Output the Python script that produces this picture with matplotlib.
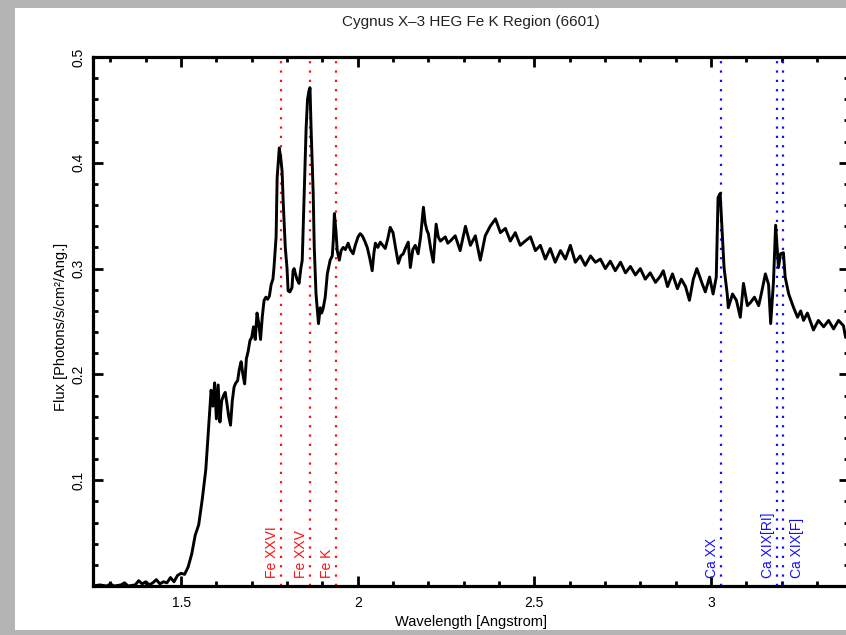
import matplotlib
matplotlib.use('Agg')
import matplotlib.pyplot as plt
from matplotlib.patches import Rectangle
from matplotlib.ticker import MultipleLocator

plt.rcParams['font.family'] = ['Liberation Sans', 'DejaVu Sans']

# HEG spectrum (Angstrom, photons/s/cm^2/Ang)
wl = [1.25, 1.27, 1.29, 1.30, 1.31, 1.33, 1.34, 1.35, 1.37, 1.38, 1.39, 1.40, 1.41,
      1.42, 1.43, 1.44, 1.45, 1.46, 1.47, 1.48, 1.49, 1.50, 1.51, 1.52, 1.53, 1.54,
      1.55, 1.56, 1.57, 1.575, 1.58, 1.585, 1.59, 1.595, 1.60, 1.605, 1.61, 1.615,
      1.62, 1.625, 1.63, 1.635, 1.64, 1.645, 1.65, 1.655, 1.66, 1.665, 1.67, 1.675,
      1.68, 1.685, 1.69, 1.695, 1.70, 1.705, 1.71, 1.715, 1.72, 1.725, 1.73, 1.735,
      1.74, 1.745, 1.75, 1.755, 1.76, 1.763, 1.769, 1.772, 1.778, 1.782, 1.786, 1.789,
      1.795, 1.800, 1.803, 1.808, 1.814, 1.817, 1.820, 1.823, 1.828, 1.834, 1.839,
      1.843, 1.848, 1.854, 1.858, 1.862, 1.865, 1.868, 1.874, 1.877, 1.882, 1.886,
      1.889, 1.894, 1.898, 1.902, 1.908, 1.914, 1.922, 1.928, 1.931, 1.934, 1.939,
      1.942, 1.948, 1.953, 1.959, 1.965, 1.973, 1.979, 1.987, 1.993, 2.001, 2.007,
      2.013, 2.020, 2.027, 2.034, 2.041, 2.046, 2.050, 2.057, 2.064, 2.071, 2.078,
      2.085, 2.092, 2.100, 2.108, 2.115, 2.122, 2.129, 2.136, 2.143, 2.149, 2.156,
      2.163, 2.171, 2.178, 2.186, 2.191, 2.196, 2.200, 2.207, 2.214, 2.222, 2.228,
      2.234, 2.241, 2.248, 2.255, 2.262, 2.276, 2.290, 2.305, 2.319, 2.333, 2.347,
      2.361, 2.375, 2.390, 2.404, 2.418, 2.432, 2.446, 2.460, 2.474, 2.489, 2.503,
      2.517, 2.531, 2.545, 2.559, 2.574, 2.588, 2.602, 2.616, 2.630, 2.644, 2.659,
      2.673, 2.687, 2.701, 2.715, 2.729, 2.744, 2.758, 2.772, 2.786, 2.800, 2.814,
      2.828, 2.843, 2.857, 2.865, 2.877, 2.891, 2.905, 2.916, 2.928, 2.939, 2.950,
      2.960, 2.976, 2.984, 2.996, 3.006, 3.015, 3.020, 3.026, 3.032, 3.037, 3.046,
      3.049, 3.061, 3.072, 3.083, 3.092, 3.103, 3.112, 3.123, 3.135, 3.143, 3.154,
      3.163, 3.169, 3.177, 3.183, 3.191, 3.197, 3.205, 3.210, 3.220, 3.234, 3.245,
      3.254, 3.262, 3.273, 3.290, 3.304, 3.319, 3.333, 3.347, 3.361, 3.375, 3.381,
      3.395]
flux = [0.000, 0.001, 0.000, 0.002, 0.000, 0.001, 0.003, 0.000, 0.001, 0.005, 0.002,
        0.004, 0.001, 0.003, 0.006, 0.002, 0.004, 0.003, 0.008, 0.004, 0.010, 0.012,
        0.011, 0.018, 0.030, 0.048, 0.058, 0.082, 0.110, 0.135, 0.160, 0.185, 0.170,
        0.192, 0.158, 0.190, 0.155, 0.175, 0.180, 0.183, 0.172, 0.160, 0.152, 0.175,
        0.188, 0.192, 0.194, 0.205, 0.212, 0.200, 0.191, 0.215, 0.222, 0.232, 0.235,
        0.245, 0.233, 0.258, 0.248, 0.233, 0.255, 0.270, 0.273, 0.271, 0.274, 0.285,
        0.290, 0.301, 0.330, 0.386, 0.414, 0.405, 0.392, 0.364, 0.320, 0.300, 0.279,
        0.278, 0.282, 0.298, 0.300, 0.296, 0.290, 0.286, 0.300, 0.308, 0.364, 0.433,
        0.460, 0.468, 0.471, 0.433, 0.371, 0.320, 0.276, 0.260, 0.248, 0.263, 0.258,
        0.262, 0.273, 0.295, 0.308, 0.312, 0.327, 0.352, 0.333, 0.317, 0.308, 0.317,
        0.320, 0.318, 0.324, 0.318, 0.314, 0.322, 0.330, 0.333, 0.331, 0.326, 0.320,
        0.310, 0.298, 0.315, 0.324, 0.320, 0.325, 0.322, 0.319, 0.328, 0.339, 0.334,
        0.318, 0.305, 0.312, 0.314, 0.320, 0.325, 0.301, 0.318, 0.322, 0.314, 0.330,
        0.358, 0.343, 0.336, 0.333, 0.318, 0.306, 0.342, 0.330, 0.326, 0.328, 0.330,
        0.324, 0.326, 0.331, 0.317, 0.340, 0.322, 0.331, 0.308, 0.331, 0.340, 0.347,
        0.334, 0.338, 0.326, 0.334, 0.322, 0.326, 0.330, 0.317, 0.322, 0.309, 0.319,
        0.306, 0.317, 0.309, 0.322, 0.306, 0.312, 0.303, 0.312, 0.306, 0.309, 0.300,
        0.307, 0.298, 0.306, 0.296, 0.302, 0.294, 0.300, 0.290, 0.296, 0.287, 0.293,
        0.298, 0.283, 0.295, 0.281, 0.290, 0.283, 0.270, 0.290, 0.300, 0.285, 0.278,
        0.292, 0.276, 0.292, 0.367, 0.371, 0.333, 0.301, 0.276, 0.263, 0.276, 0.270,
        0.254, 0.286, 0.265, 0.268, 0.273, 0.265, 0.277, 0.295, 0.285, 0.248, 0.288,
        0.341, 0.301, 0.314, 0.315, 0.292, 0.276, 0.263, 0.254, 0.260, 0.251, 0.258,
        0.242, 0.251, 0.245, 0.251, 0.243, 0.251, 0.246, 0.235, 0.240]

# line identifications
fe_lines = [1.783, 1.865, 1.939]
fe_names = ['Fe XXVI', 'Fe XXV', 'Fe K']
ca_lines = [3.027, 3.186, 3.205]
ca_names = ['Ca XX', 'Ca XIX[RI]', 'Ca XIX[F]']
ca_side = ['left', 'left', 'right']

fig = plt.figure(figsize=(8.46, 6.35), dpi=100, facecolor='#b4b4b4')
fig.patches.append(Rectangle((15/846, 5/635), 831/846, 622/635, transform=fig.transFigure,
                             facecolor='white', edgecolor='none', zorder=-10))
sub = fig.add_axes([92.75/846, 49/635, 756/846, 529/635])
sub.set_facecolor('white')

sub.plot(wl, flux, color='black', linewidth=2.1, zorder=3)

for w, name in zip(fe_lines, fe_names):
    sub.axvline(w, color='#ff1010', linestyle=(0, (1, 3.2)), linewidth=1.6, zorder=2)
    sub.text(w - 0.005, 0.0075, name, color='#ff1010', rotation=90, fontsize=10,
             ha='right', va='bottom')
for w, name, side in zip(ca_lines, ca_names, ca_side):
    sub.axvline(w, color='#1010ff', linestyle=(0, (1, 3.2)), linewidth=1.6, zorder=2)
    if side == 'left':
        sub.text(w - 0.005, 0.0075, name, color='#1010ff', rotation=90, fontsize=10,
                 ha='right', va='bottom')
    else:
        sub.text(w + 0.018, 0.0075, name, color='#1010ff', rotation=90, fontsize=10,
                 ha='left', va='bottom')

sub.set_xlim(1.25, 3.39)
sub.set_ylim(0, 0.5)

sub.xaxis.set_major_locator(MultipleLocator(0.5))
sub.xaxis.set_minor_locator(MultipleLocator(0.1))
sub.set_yticks([0.1, 0.2, 0.3, 0.4, 0.5])
sub.yaxis.set_minor_locator(MultipleLocator(0.02))
sub.set_xticks([1.5, 2.0, 2.5, 3.0])
sub.set_xticklabels(['1.5', '2', '2.5', '3'])
sub.set_yticklabels(['0.1', '0.2', '0.3', '0.4', '0.5'], rotation=90, va='center')

sub.tick_params(which='both', direction='in', top=True, right=True, labelsize=10,
                colors='black')
sub.tick_params(axis='x', pad=7)
sub.tick_params(axis='y', pad=5)
sub.tick_params(which='major', length=7, width=2)
sub.tick_params(which='minor', length=3.5, width=2)
for sp in sub.spines.values():
    sp.set_linewidth(2.3)

sub.set_title('Cygnus X\u20133 HEG Fe K Region (6601)', fontsize=11, pad=22, color='#222222')
sub.set_xlabel('Wavelength [Angstrom]', fontsize=10.5, labelpad=4)
sub.set_ylabel('Flux [Photons/s/cm\u00b2/Ang.]', fontsize=10.5)
sub.yaxis.set_label_coords(-0.033, 0.49)

fig.savefig('out.png', dpi=100, facecolor=fig.get_facecolor())
